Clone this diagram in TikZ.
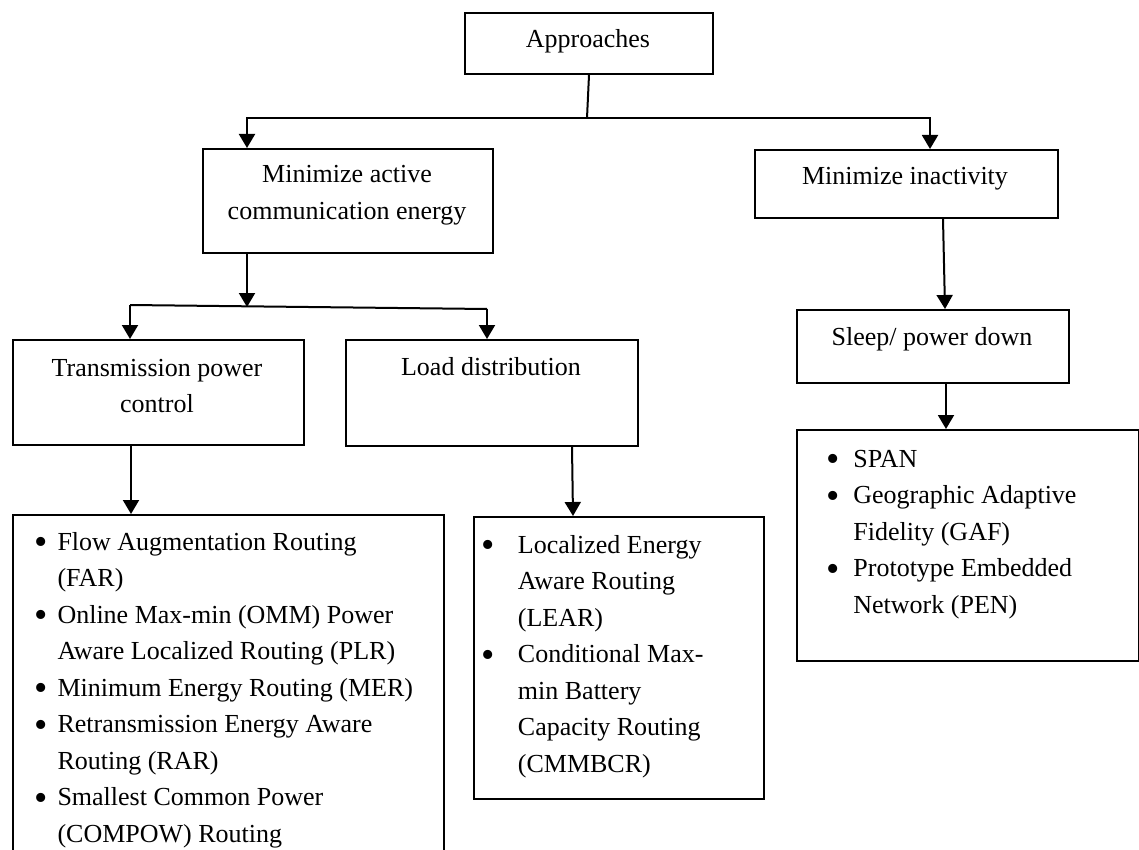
\documentclass[tikz,border=0pt]{standalone}
\usepackage{fontspec}
\setmainfont{Liberation Serif}
\usetikzlibrary{arrows.meta}

\tikzset{
  box/.style={draw, line width=1pt, inner sep=0pt, anchor=north west},
  txt/.style={anchor=base, inner sep=0pt},
  lst/.style={anchor=base west, inner sep=0pt},
  link/.style={line width=1pt},
  arr/.style={line width=1pt, -{Triangle[width=8pt,length=7pt]}}
}
\newcommand{\twoline}[2]{\begin{tabular}[t]{@{}c@{}}#1\\#2\end{tabular}}
\newcommand{\bul}{\raisebox{-2.3pt}{\fontsize{19pt}{19pt}\selectfont\textbullet}}

\begin{document}
\begin{tikzpicture}[x=0.5pt, y=-0.5pt, font=\fontsize{13pt}{18.25pt}\selectfont]
	\clip (0,0) rectangle (1139,850);
	
	% boxes
	\node[box,minimum width=124pt,minimum height=30.5pt] (approach) at (464,12) {};
	\node[box,minimum width=145pt,minimum height=52pt] (active) at (202,148) {};
	\node[box,minimum width=151.5pt,minimum height=34pt] (inactive) at (754,149) {};
	\node[box,minimum width=145.5pt,minimum height=52.5pt] (txpower) at (12,339) {};
	\node[box,minimum width=146pt,minimum height=53pt] (loaddist) at (345,339) {};
	\node[box,minimum width=136pt,minimum height=36.5pt] (sleep) at (796,309) {};
	\node[box,minimum width=215.5pt,minimum height=175pt] (farlist) at (12,514) {};
	\node[box,minimum width=145pt,minimum height=141pt] (learlist) at (473,516) {};
	\node[box,minimum width=171pt,minimum height=115.5pt] (spanlist) at (796,429) {};
	
	% titles
	\node[txt] (approach-t) at (588,48) {Approaches};
	\node[txt] (active-t) at (347,183) {\twoline{Minimize active}{communication energy}};
	\node[txt] (inactive-t) at (905,185) {Minimize inactivity};
	\node[txt] (txpower-t) at (157,376) {\twoline{Transmission power}{control}};
	\node[txt] (loaddist-t) at (491,375) {Load distribution};
	\node[txt] (sleep-t) at (932,345) {Sleep/ power down};
	
	% lists
	\node[lst] (far-t) at (34.4,550) {\begin{tabular}[t]{@{}l@{\hspace{4.7pt}}l@{}}
		\bul & Flow Augmentation Routing\\
		& (FAR)\\
		\bul & Online Max-min (OMM) Power\\
		& Aware Localized Routing (PLR)\\
		\bul & Minimum Energy Routing (MER)\\
		\bul & Retransmission Energy Aware\\
		& Routing (RAR)\\
		\bul & Smallest Common Power\\
		& (COMPOW) Routing
	\end{tabular}};
	\node[lst] (lear-t) at (481.4,553) {\begin{tabular}[t]{@{}l@{\hspace{11.4pt}}l@{}}
		\bul & Localized Energy\\
		& Aware Routing\\
		& (LEAR)\\
		\bul & Conditional Max-\\
		& min Battery\\
		& Capacity Routing\\
		& (CMMBCR)
	\end{tabular}};
	\node[lst] (span-t) at (826.4,467) {\begin{tabular}[t]{@{}l@{\hspace{6.65pt}}l@{}}
		\bul & SPAN\\
		\bul & Geographic Adaptive\\
		& Fidelity (GAF)\\
		\bul & Prototype Embedded\\
		& Network (PEN)
	\end{tabular}};
	
	% connectors
	\coordinate (hubA) at (587,118);
	\coordinate (hubAL) at (247,118);
	\coordinate (hubAR) at (930,118);
	\coordinate (hubB) at (247,307);
	\coordinate (hubBL) at (130,305);
	\coordinate (hubBR) at (487,309);
	
	\draw[link] (approach.south) -- (hubA);
	\draw[arr] (hubA) -| (active.north -| hubAL);
	\draw[arr] (hubA) -| (inactive.north -| hubAR);
	\draw[arr] (active.south -| hubB) -- (hubB);
	\draw[link] (hubBL) -- (hubBR);
	\draw[arr] (hubBL) -- (txpower.north -| hubBL);
	\draw[arr] (hubBR) -- (loaddist.north -| hubBR);
	\draw[arr] ([xshift=18.25pt]inactive.south) -- ([xshift=6pt]sleep.north);
	\draw[arr] ([xshift=6.5pt]sleep.south) -- ([xshift=-11pt]spanlist.north);
	\draw[arr] ([xshift=-13.75pt]txpower.south) -- ([xshift=-48.75pt]farlist.north);
	\draw[arr] ([xshift=40pt]loaddist.south) -- ([xshift=-23pt]learlist.north);
\end{tikzpicture}
\end{document}
